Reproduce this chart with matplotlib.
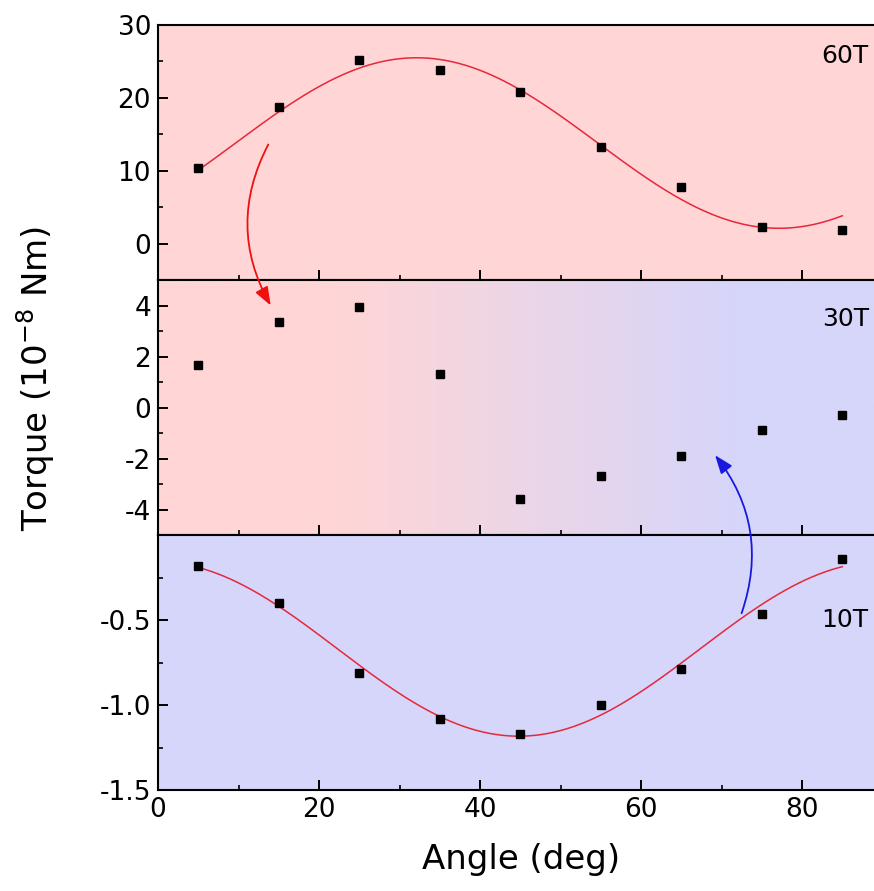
import numpy as np
import matplotlib
matplotlib.use("Agg")
import matplotlib.pyplot as plt
from matplotlib.patches import ConnectionPatch
from matplotlib.colors import LinearSegmentedColormap

plt.rcParams['font.family'] = ['DejaVu Sans']
plt.rcParams['axes.unicode_minus'] = False

# ---- data ----
angle = [5, 15, 25, 35, 45, 55, 65, 75, 85]
torque_60T = [10.4, 18.8, 25.2, 23.8, 20.8, 13.3, 7.7, 2.3, 1.9]
torque_30T = [1.67, 3.36, 3.94, 1.30, -3.57, -2.69, -1.89, -0.90, -0.31]
torque_10T = [-0.18, -0.40, -0.81, -1.08, -1.17, -1.00, -0.79, -0.465, -0.14]
panel_labels = ["60T", "30T", "10T"]
xticks = [0, 20, 40, 60, 80]

pink = '#FFD5D6'
lav = '#D6D6FA'
red = '#E5283C'
blue = '#1818E0'

W, H = 874, 891
fig = plt.figure(figsize=(W / 100, H / 100), dpi=100)

left = 158 / W
right = 882.5 / W
def pos(top_px, bot_px):
    return [left, 1 - bot_px / H, right - left, (bot_px - top_px) / H]

ax1 = fig.add_axes(pos(25, 280))
ax2 = fig.add_axes(pos(280, 535))
ax3 = fig.add_axes(pos(535, 790))

ax1.set_ylim(-5, 30)
ax2.set_ylim(-5, 5)
ax3.set_ylim(-1.5, 0)

for ax in (ax1, ax2, ax3):
    ax.set_xlim(0, 90)
    ax.set_xticks(xticks)
    ax.set_xticks(np.arange(10, 90, 20), minor=True)
    ax.tick_params(which='major', direction='in', length=7.5, width=1.4,
                   labelsize=19, pad=5)
    ax.tick_params(which='minor', direction='in', length=3.8, width=1.2)
    for s in ax.spines.values():
        s.set_linewidth(1.5)
    ax.spines['right'].set_visible(False)

ax1.set_facecolor(pink)
ax3.set_facecolor(lav)
# gradient background for middle panel
cmap = LinearSegmentedColormap.from_list('g', [(0, pink), (0.25, pink), (0.8, lav), (1, lav)])
grad = np.linspace(0, 1, 256).reshape(1, -1)
ax2.imshow(grad, extent=[0, 90, -5, 5], aspect='auto', cmap=cmap, zorder=0)

ax1.set_yticks([0, 10, 20, 30])
ax1.set_yticks([-5, 5, 15, 25], minor=True)
ax2.set_yticks([-4, -2, 0, 2, 4])
ax2.set_yticks([-3, -1, 1, 3], minor=True)
ax3.set_yticks([-1.5, -1.0, -0.5])
ax3.set_yticks([-1.25, -0.75, -0.25], minor=True)
ax3.set_yticklabels(['-1.5', '-1.0', '-0.5'])

ax1.tick_params(labelbottom=False)
ax2.tick_params(labelbottom=False)

# fits
def sinfit(x, y, xs):
    x = np.asarray(x, float); y = np.asarray(y, float)
    w = np.deg2rad(4 * x)
    A = np.column_stack([np.ones_like(x), np.cos(w), np.sin(w)])
    c, *_ = np.linalg.lstsq(A, y, rcond=None)
    ws = np.deg2rad(4 * xs)
    return c[0] + c[1] * np.cos(ws) + c[2] * np.sin(ws)

xs = np.linspace(angle[0], angle[-1], 300)
ax1.plot(xs, sinfit(angle, torque_60T, xs), color=red, lw=1.1, zorder=2)
ax3.plot(xs, sinfit(angle, torque_10T, xs), color=red, lw=1.1, zorder=2)

for ax, data in ((ax1, torque_60T), (ax2, torque_30T), (ax3, torque_10T)):
    ax.plot(angle, data, 's', color='black', ms=5.5, zorder=3, clip_on=False)

for ax, lab, yv in ((ax1, panel_labels[0], 25.75), (ax2, panel_labels[1], 3.48), (ax3, panel_labels[2], -0.50)):
    ax.text(88.3, yv, lab, fontsize=18, ha='right', va='center')

# arrows
arr1 = ConnectionPatch(xyA=(13.7, 13.6), coordsA=ax1.transData,
                       xyB=(14.0, 4.0), coordsB=ax2.transData,
                       arrowstyle='-|>,head_length=0.8,head_width=0.3',
                       connectionstyle='arc3,rad=0.27', color='#F01010', lw=1.3,
                       mutation_scale=14, zorder=5)
fig.add_artist(arr1)
arr2 = ConnectionPatch(xyA=(72.5, -0.46), coordsA=ax3.transData,
                       xyB=(69.2, -1.87), coordsB=ax2.transData,
                       arrowstyle='-|>,head_length=0.8,head_width=0.3',
                       connectionstyle='arc3,rad=0.27', color=blue, lw=1.3,
                       mutation_scale=14, zorder=5)
fig.add_artist(arr2)

fig.text(36 / W, 1 - 378 / H, 'Torque (10$^{-8}$ Nm)', rotation=90, fontsize=24.5,
         ha='center', va='center')
fig.text(521 / W, 1 - 860 / H, 'Angle (deg)', fontsize=24.5, ha='center', va='center')

fig.savefig('out.png', dpi=100)
